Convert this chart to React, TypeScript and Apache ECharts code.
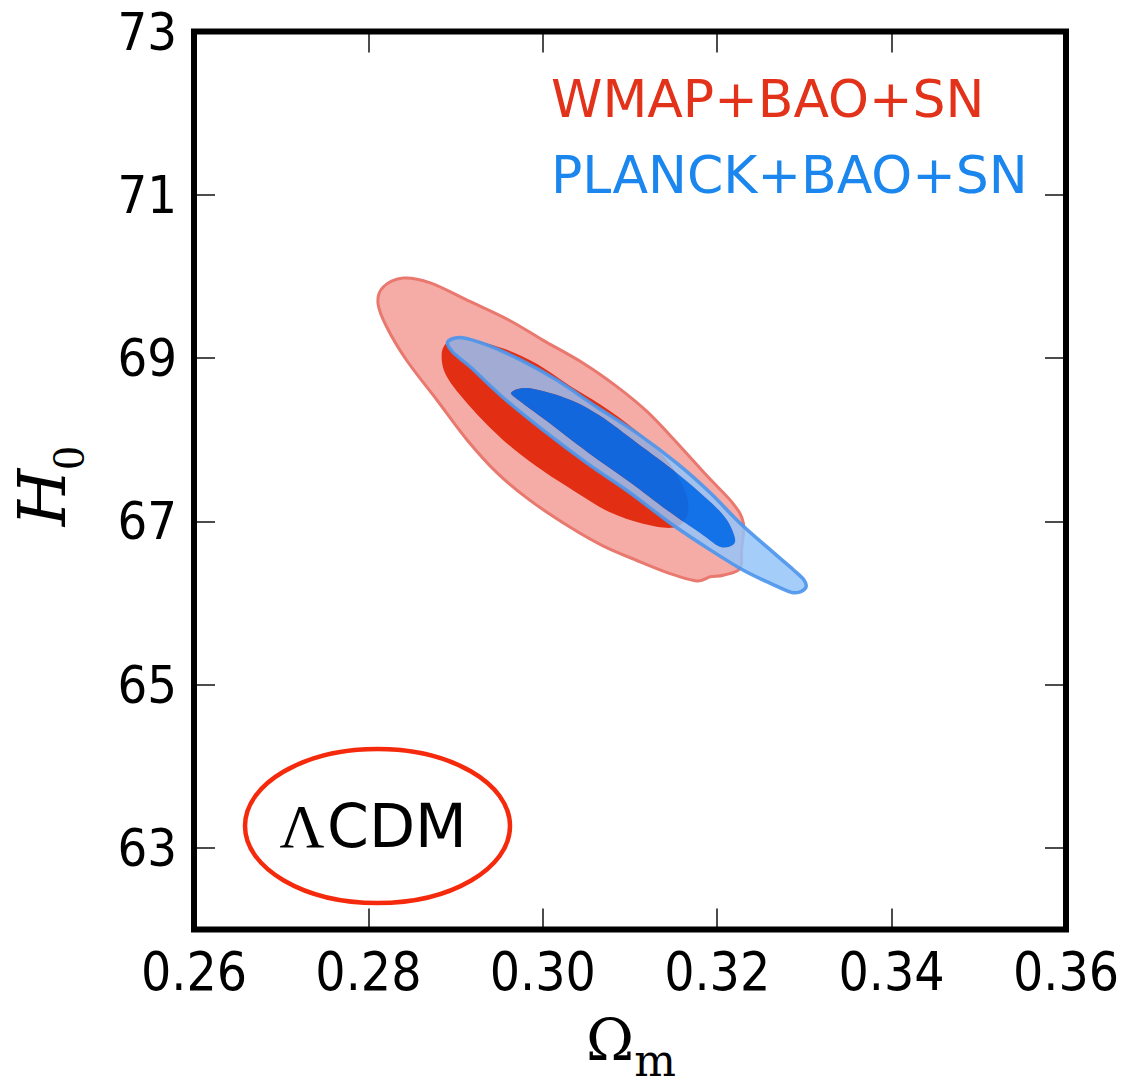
import React, { useEffect, useRef } from "react";
import * as echarts from "echarts";

// ---------- data (Omega_m, H0) ----------
const xTicks = [0.26, 0.28, 0.3, 0.32, 0.34, 0.36];
const yTicks = [63, 65, 67, 69, 71, 73];

const wmapOuter: [number, number][] = [
  [0.284, 69.98], [0.2871, 69.92], [0.2917, 69.69], [0.2962, 69.46], [0.3, 69.22],
  [0.3046, 68.94], [0.3085, 68.65], [0.312, 68.34], [0.3154, 67.96], [0.3188, 67.56],
  [0.3218, 67.22], [0.323, 66.98], [0.3228, 66.65], [0.3226, 66.42], [0.3207, 66.34],
  [0.3192, 66.32], [0.3177, 66.27], [0.3146, 66.36], [0.3108, 66.52], [0.3069, 66.7],
  [0.3031, 66.93], [0.2985, 67.26], [0.2947, 67.6], [0.2913, 68.0], [0.2879, 68.48],
  [0.2844, 68.97], [0.2821, 69.38], [0.2811, 69.67], [0.2817, 69.87],
];

const wmapInner: [number, number][] = [
  [0.2908, 69.25], [0.2954, 69.12], [0.2993, 68.93], [0.3031, 68.66], [0.3066, 68.43],
  [0.3106, 68.12], [0.314, 67.78], [0.316, 67.45], [0.3167, 67.2], [0.3163, 67.02],
  [0.3148, 66.92], [0.3115, 66.97], [0.3077, 67.11], [0.3039, 67.35], [0.2993, 67.67],
  [0.2954, 68.0], [0.2917, 68.4], [0.289, 68.77], [0.2884, 69.04], [0.2891, 69.2],
];

const planckOuter: [number, number][] = [
  [0.2891, 69.2], [0.2908, 69.25], [0.2936, 69.16], [0.2974, 68.98], [0.3016, 68.73],
  [0.3062, 68.4], [0.3108, 68.08], [0.3154, 67.71], [0.3192, 67.35], [0.3226, 66.98],
  [0.3261, 66.65], [0.3287, 66.41], [0.3299, 66.29], [0.3302, 66.2], [0.3296, 66.14],
  [0.3285, 66.13], [0.3261, 66.24], [0.323, 66.4], [0.3192, 66.65], [0.3146, 66.98],
  [0.31, 67.35], [0.3051, 67.71], [0.3, 68.12], [0.2954, 68.52], [0.2917, 68.89],
  [0.2897, 69.07],
];

const planckInner: [number, number][] = [
  [0.2964, 68.58], [0.2985, 68.63], [0.3031, 68.49], [0.3066, 68.29], [0.3108, 67.96],
  [0.3154, 67.59], [0.3192, 67.24], [0.3211, 67.02], [0.322, 66.81], [0.3218, 66.71],
  [0.3203, 66.69], [0.318, 66.86], [0.3146, 67.11], [0.31, 67.48], [0.3051, 67.85],
  [0.3003, 68.24], [0.2974, 68.47],
];

const legendWmap = "WMAP+BAO+SN";
const legendPlanck = "PLANCK+BAO+SN";
const modelLambda = "Λ";
const modelRest = "CDM";
const xName = ["Ω", "m"];
const yName = ["H", "0"];

// ---------- helpers ----------
function smoothPath(pts: number[][]): string {
  const n = pts.length;
  let d = `M${pts[0][0]},${pts[0][1]}`;
  for (let i = 0; i < n; i++) {
    const p0 = pts[(i - 1 + n) % n];
    const p1 = pts[i];
    const p2 = pts[(i + 1) % n];
    const p3 = pts[(i + 2) % n];
    const c1x = p1[0] + (p2[0] - p0[0]) / 6;
    const c1y = p1[1] + (p2[1] - p0[1]) / 6;
    const c2x = p2[0] - (p3[0] - p1[0]) / 6;
    const c2y = p2[1] - (p3[1] - p1[1]) / 6;
    d += `C${c1x},${c1y},${c2x},${c2y},${p2[0]},${p2[1]}`;
  }
  return d + "Z";
}

function area(pts: number[][]): number {
  let a = 0;
  for (let i = 0; i < pts.length; i++) {
    const p = pts[i];
    const q = pts[(i + 1) % pts.length];
    a += p[0] * q[1] - q[0] * p[1];
  }
  return a / 2;
}

function contour(
  name: string,
  pts: [number, number][],
  fill: string,
  stroke: string | null,
  lineWidth: number,
  hole?: [number, number][],
  z = 2
) {
  return {
    type: "custom",
    name,
    coordinateSystem: "cartesian2d",
    data: pts,
    silent: true,
    clip: true,
    z,
    renderItem: (params: any, api: any) => {
      if (params.dataIndex !== 0) return null;
      const px = pts.map((p) => api.coord(p));
      let d = smoothPath(px);
      if (hole) {
        let hp = hole.map((p) => api.coord(p));
        if (Math.sign(area(px)) === Math.sign(area(hp))) hp = hp.slice().reverse();
        d += smoothPath(hp);
      }
      const children: any[] = [
        { type: "path", shape: { pathData: d }, style: { fill, stroke: null, lineWidth: 0 } },
      ];
      if (stroke) {
        children.push({
          type: "path",
          shape: { pathData: smoothPath(px) },
          style: { fill: "none", stroke, lineWidth, lineJoin: "round" },
        });
      }
      return { type: "group", children };
    },
  };
}

const tickFont = "'DejaVu Sans Condensed', 'DejaVu Sans'";

const tickStyle = { inside: true, length: 21, lineStyle: { color: "#111", width: 1.5 } };

function textEl(
  text: string,
  x: number,
  y: number,
  opts: { size: number; family: string; color?: string; italic?: boolean; align?: string; rotation?: number }
) {
  return {
    type: "text",
    x,
    y,
    rotation: opts.rotation || 0,
    silent: true,
    style: {
      text,
      fill: opts.color || "#000",
      fontSize: opts.size,
      fontFamily: opts.family,
      fontStyle: opts.italic ? "italic" : "normal",
      font: `${opts.italic ? "italic " : ""}${opts.size}px ${opts.family}`,
      align: opts.align || "center",
      textAlign: opts.align || "center",
      verticalAlign: "middle",
      textVerticalAlign: "middle",
    },
  };
}

export default function App() {
  const ref = useRef<HTMLDivElement>(null);

  useEffect(() => {
    const chart = echarts.init(ref.current!, null, { renderer: "svg" });
    const option: any = {
      animation: false,
      backgroundColor: "#fff",
      grid: {
        left: 194,
        top: 31.5,
        width: 872,
        height: 898,
        show: true,
        borderWidth: 6,
        borderColor: "#000",
        backgroundColor: "transparent",
        z: 10,
      },
      xAxis: [
        {
          type: "value",
          min: xTicks[0],
          max: xTicks[xTicks.length - 1],
          interval: 0.02,
          position: "bottom",
          axisLine: { show: false },
          splitLine: { show: false },
          axisTick: tickStyle,
          axisLabel: {
            margin: 42,
            verticalAlign: "middle",
            fontSize: 53,
            fontFamily: tickFont,
            color: "#000",
            formatter: (v: number) => v.toFixed(2),
          },
        },
        {
          type: "value",
          min: xTicks[0],
          max: xTicks[xTicks.length - 1],
          interval: 0.02,
          position: "top",
          axisLine: { show: false },
          splitLine: { show: false },
          axisTick: tickStyle,
          axisLabel: { show: false },
        },
      ],
      yAxis: [
        {
          type: "value",
          min: 62,
          max: 73,
          position: "left",
          axisLine: { show: false },
          splitLine: { show: false },
          axisTick: { ...tickStyle, customValues: yTicks },
          axisLabel: {
            customValues: yTicks,
            margin: 17,
            fontSize: 52,
            fontFamily: tickFont,
            color: "#000",
          },
        },
        {
          type: "value",
          min: 62,
          max: 73,
          position: "right",
          axisLine: { show: false },
          splitLine: { show: false },
          axisTick: { ...tickStyle, customValues: yTicks },
          axisLabel: { show: false },
        },
      ],
      series: [
        contour("WMAP 95%", wmapOuter, "#f5aca6", "#e9786f", 3, undefined, 2),
        contour("WMAP 68%", wmapInner, "#e22e12", null, 0, undefined, 3),
        contour("PLANCK 95%", planckOuter, "rgba(148,195,249,0.84)", "rgba(78,150,235,0.92)", 3.5, planckInner, 4),
        contour("PLANCK 68%", planckInner, "rgba(0,108,238,0.92)", null, 0, undefined, 5),
      ],
      graphic: [
        textEl(legendWmap, 551, 98.5, { size: 52, family: "'DejaVu Sans'", color: "#e2321a", align: "left" }),
        textEl(legendPlanck, 551, 175, { size: 52, family: "'DejaVu Sans'", color: "#1a86ee", align: "left" }),
        {
          type: "ellipse",
          silent: true,
          shape: { cx: 377.5, cy: 826, rx: 132.5, ry: 77 },
          style: { fill: "none", stroke: "#f52a0c", lineWidth: 4.5 },
        },
        textEl(modelLambda, 302, 825.5, { size: 62, family: "'Liberation Serif'" }),
        textEl(modelRest, 327, 825.5, { size: 60, family: "'DejaVu Sans'", align: "left" }),
        textEl(yName[0], 42.5, 497.5, { size: 66, family: "'DejaVu Serif'", italic: true, rotation: Math.PI / 2 }),
        textEl(yName[1], 68.5, 458, { size: 46, family: "'Liberation Serif'", rotation: Math.PI / 2 }),
        textEl(xName[0], 610, 1040, { size: 58, family: "'DejaVu Serif'" }),
        textEl(xName[1], 655, 1060, { size: 44, family: "'DejaVu Serif'" }),
      ],
    };
    chart.setOption(option);
    return () => chart.dispose();
  }, []);

  return (
    <div
      ref={ref}
      style={{ position: "fixed", left: 0, top: 0, width: 1131, height: 1084, background: "#fff" }}
    />
  );
}
